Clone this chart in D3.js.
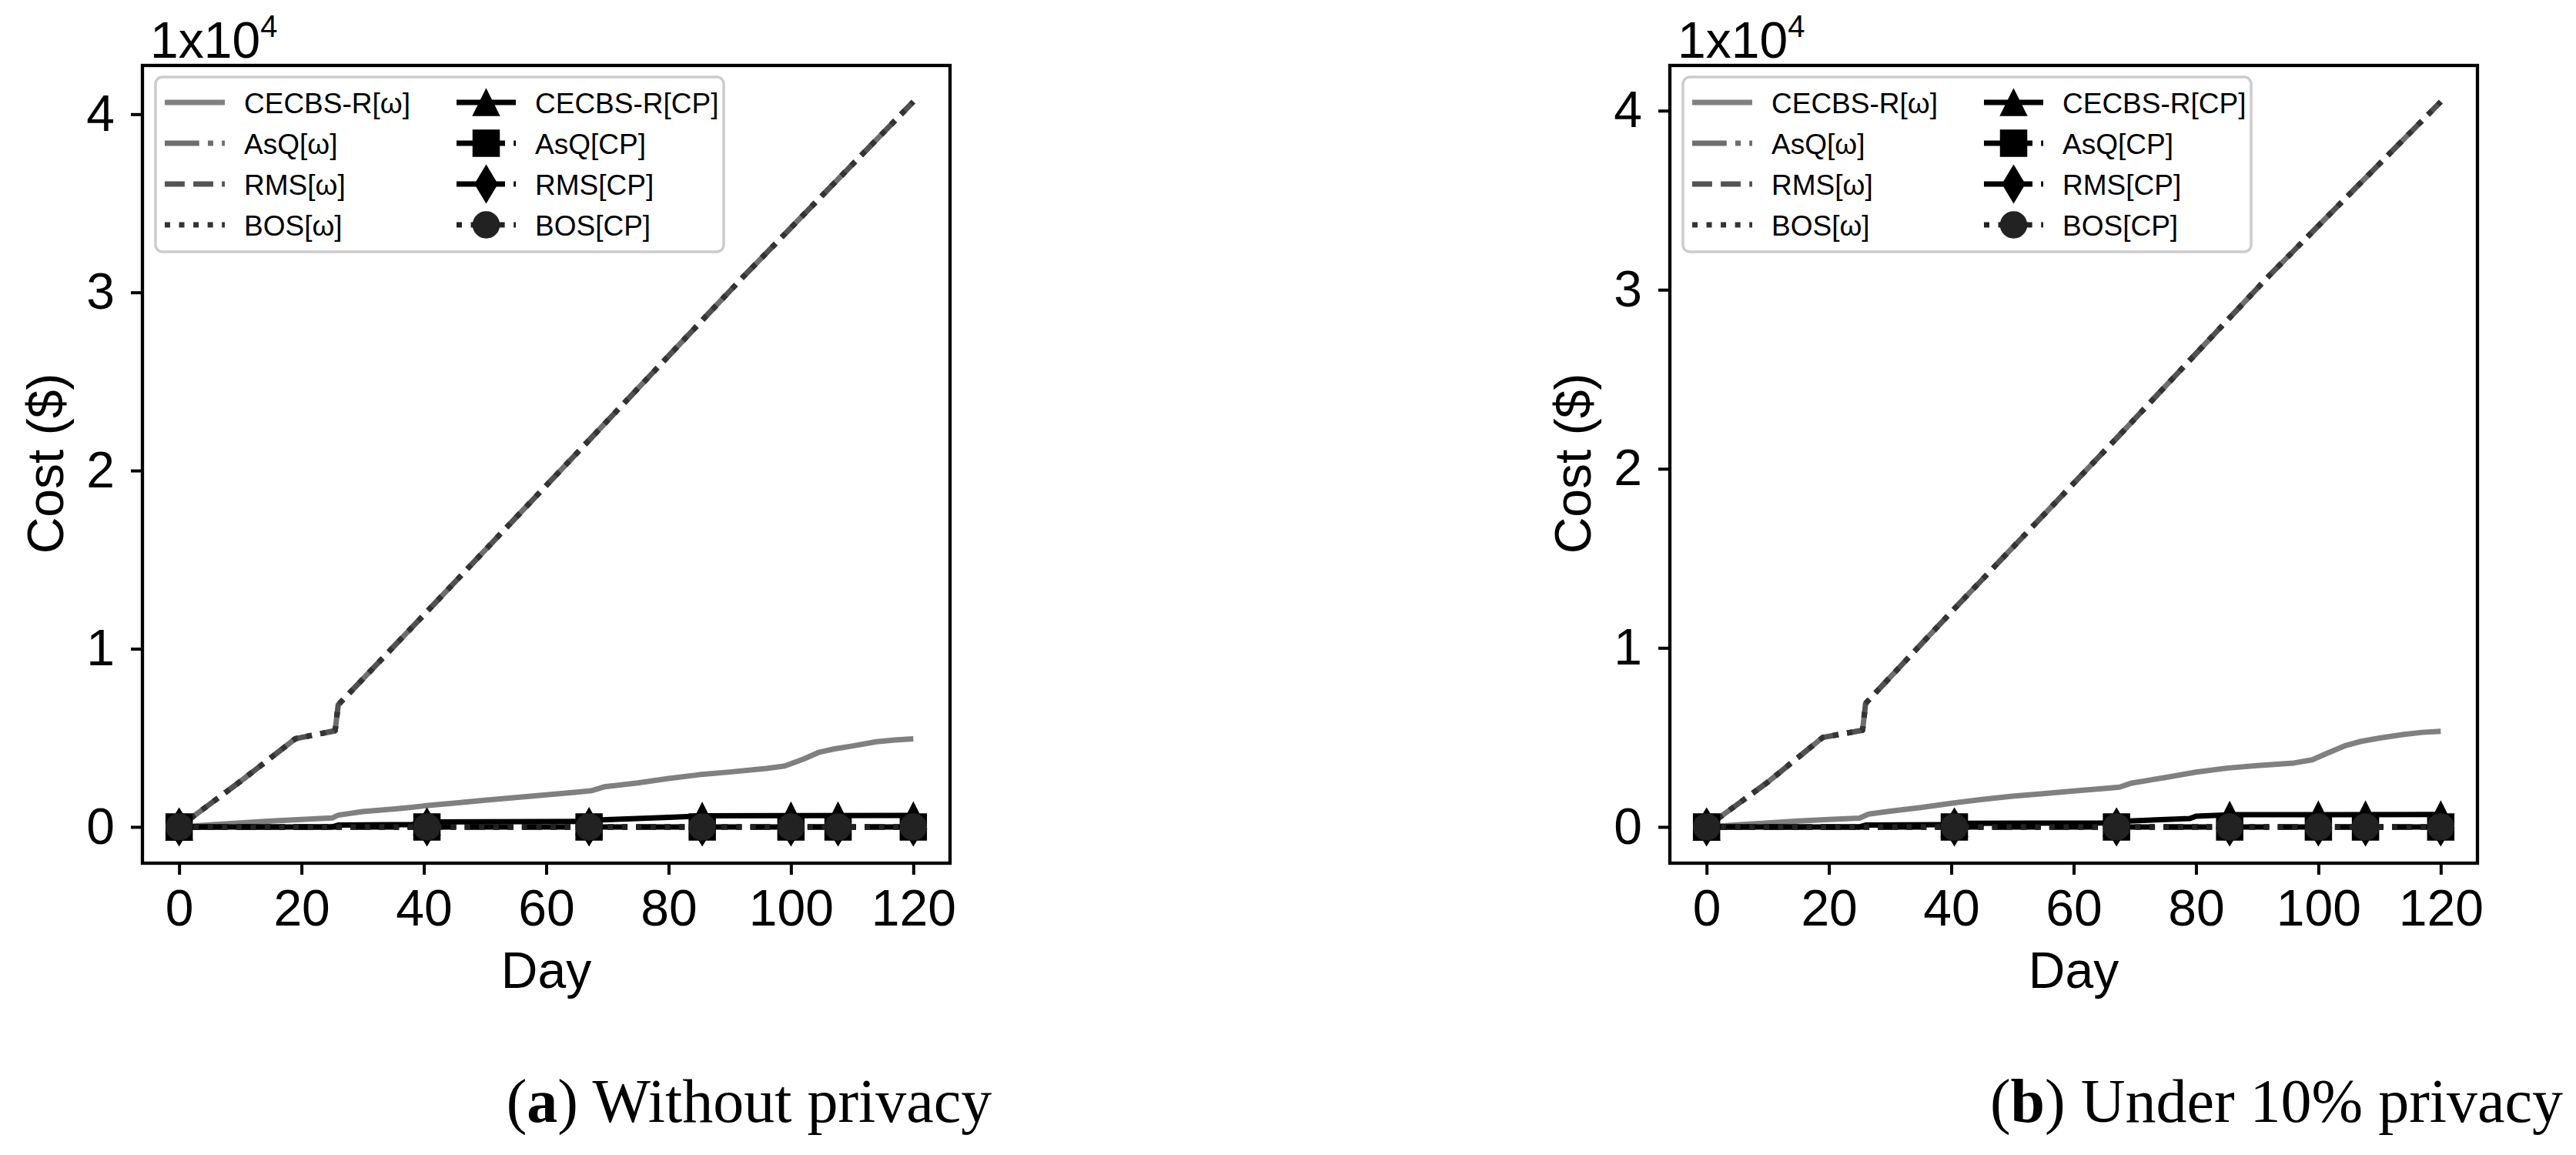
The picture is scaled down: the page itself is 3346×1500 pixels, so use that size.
<!DOCTYPE html>
<html><head><meta charset="utf-8">
<script src="https://cdn.jsdelivr.net/npm/d3@7"></script>
<style>body{margin:0;background:#fff;} svg{display:block;}</style>
</head><body>
<svg id="chart" width="3346" height="1500"></svg>
<script>
// ---------------- DATA ----------------
const seriesNames = ["CECBS-R[ω]","AsQ[ω]","RMS[ω]","BOS[ω]","CECBS-R[CP]","AsQ[CP]","RMS[CP]","BOS[CP]"];
const xTicks = [0,20,40,60,80,100,120];
const yTicks = [0,10000,20000,30000,40000];
const yTickLabels = ["0","1","2","3","4"];

// Panel (a) Without privacy : [day, cost]
const cecbsOmegaA = [[0,0],[5,110],[10,220],[15,330],[20,420],[25,500],[26,660],[30,860],[35,1000],[38,1100],[40,1180],[45,1340],[50,1500],[55,1650],[60,1800],[65,1950],[67.5,2040],[69.5,2250],[75,2470],[80,2720],[85,2930],[90,3080],[96,3280],[99,3420],[102,3800],[104.5,4180],[107,4370],[110,4540],[114,4780],[117,4880],[120,4940]];
const asqOmegaA = [[0,0],[10,2550],[19,4950],[25.5,5400],[26,6850],[40,11900],[67,21700],[92,30800],[120,40700]];
const rmsOmegaA = [[0,0],[10,2550],[19,4950],[25.5,5400],[26,6850],[40,11900],[67,21700],[92,30800],[120,40700]];
const bosOmegaA = [[0,0],[10,2550],[19,4950],[25.5,5400],[26,6850],[40,11900],[67,21700],[92,30800],[120,40700]];
const cecbsCPA = [[0,0],[25,0],[26,100],[38,130],[40,280],[67,310],[69,400],[80,540],[86,620],[100,630],[120,640]];
const asqCPA = [[0,0],[40,0],[80,0],[120,0]];
const rmsCPA = [[0,0],[40,0],[80,0],[120,0]];
const bosCPA = [[0,0],[40,0],[80,0],[120,0]];

// Panel (b) Under 10% privacy
const cecbsOmegaB = [[0,0],[5,110],[10,220],[15,330],[20,420],[25,490],[26.5,720],[30,880],[35,1080],[40,1320],[45,1530],[50,1720],[55,1860],[60,2010],[65,2150],[67.5,2220],[69.5,2450],[75,2760],[80,3060],[85,3280],[90,3430],[96,3570],[99,3750],[101,4050],[104.5,4550],[107,4780],[110,4960],[114,5170],[117,5280],[120,5340]];
const asqOmegaB = [[0,0],[10,2500],[19,5000],[25.5,5400],[26,6900],[40,12000],[67,21700],[92,30800],[120,40500]];
const rmsOmegaB = [[0,0],[10,2500],[19,5000],[25.5,5400],[26,6900],[40,12000],[67,21700],[92,30800],[120,40500]];
const bosOmegaB = [[0,0],[10,2500],[19,5000],[25.5,5400],[26,6900],[40,12000],[67,21700],[92,30800],[120,40500]];
const cecbsCPB = [[0,0],[25,0],[26,100],[38,120],[40,200],[67,220],[69,330],[79,470],[80,600],[86,680],[120,690]];
const asqCPB = [[0,0],[40,0],[80,0],[120,0]];
const rmsCPB = [[0,0],[40,0],[80,0],[120,0]];
const bosCPB = [[0,0],[40,0],[80,0],[120,0]];

// marker positions (days) and the marker values
const markerDays = [0,40.5,67,85.5,100,107.7,120];
const cecbsCPMarksA = [0,290,310,610,630,635,640];
const cecbsCPMarksB = [0,205,220,670,682,686,690];
const zeroMarks = [0,0,0,0,0,0,0];

const captions = [["a"," Without privacy"],["b"," Under 10% privacy"]];

// ---------------- STYLE ----------------
const W=3346,H=1500;
const LW=7;
const DASH={solid:null,dashed:[3.7,1.6],dashdot:[6.4,1.6,1,1.6],dotted:[1,1.65]};
const dashStr=k=>DASH[k]?DASH[k].map(v=>(v*LW).toFixed(2)).join(","):null;
const MS=34;
const dh=MS*Math.SQRT2/2, dw=0.6*dh;
const markerPath={
  triangle:`M0,${-MS/2}L${MS/2},${MS/2}L${-MS/2},${MS/2}Z`,
  square:`M${-MS/2},${-MS/2}h${MS}v${MS}h${-MS}Z`,
  thinDiamond:`M0,${-dh}L${dw},0L0,${dh}L${-dw},0Z`,
  circle:d3.symbol(d3.symbolCircle,Math.PI*(MS/2)*(MS/2))()
};
const styles=[
  {color:"#808080",dash:"solid"},
  {color:"#6e6e6e",dash:"dashdot"},
  {color:"#525252",dash:"dashed"},
  {color:"#333333",dash:"dotted"},
  {color:"#000000",dash:"solid",marker:"triangle"},
  {color:"#000000",dash:"dashdot",marker:"square"},
  {color:"#000000",dash:"dashed",marker:"thinDiamond"},
  {color:"#222222",dash:"dotted",marker:"circle"}
];
const SANS="'Liberation Sans', Arial, Helvetica, sans-serif";
const SERIF="'Liberation Serif', 'Times New Roman', serif";

const svg=d3.select("#chart");
svg.append("rect").attr("width",W).attr("height",H).attr("fill","#fff");

function drawPanel(off, idx, series, marks){
  const g=svg.append("g").attr("transform",`translate(${off},0)`);
  const plotL=185, plotR=1234, plotT=85, plotB=1121;
  const allX=series.flat().map(d=>d[0]);
  const allY=series.flat().map(d=>d[1]);
  const [x0,x1]=d3.extent(allX), [y0,y1]=d3.extent(allY);
  const mx=(x1-x0)*0.05, my=(y1-y0)*0.05;
  const x=d3.scaleLinear().domain([x0-mx,x1+mx]).range([plotL,plotR]);
  const y=d3.scaleLinear().domain([y0-my,y1+my]).range([plotB,plotT]);

  const clipId="clip"+idx;
  g.append("clipPath").attr("id",clipId).append("rect")
    .attr("x",plotL).attr("y",plotT).attr("width",plotR-plotL).attr("height",plotB-plotT);

  const line=d3.line().x(d=>x(d[0])).y(d=>y(d[1]));
  const plot=g.append("g").attr("clip-path",`url(#${clipId})`);
  series.forEach((s,i)=>{
    const st=styles[i];
    plot.append("path").datum(s).attr("d",line)
      .attr("fill","none").attr("stroke",st.color).attr("stroke-width",LW)
      .attr("stroke-dasharray",dashStr(st.dash)).attr("stroke-linejoin","round")
      .attr("stroke-linecap","butt");
    if(st.marker){
      const mv=marks[i-4];
      plot.selectAll(null).data(markerDays.map((d,k)=>[d,mv[k]])).enter()
        .append("path").attr("d",markerPath[st.marker])
        .attr("transform",d=>`translate(${x(d[0])},${y(d[1])})`)
        .attr("fill",st.color).attr("stroke",st.color).attr("stroke-width",1.5);
    }
  });

  // axes
  const xa=g.append("g").attr("transform",`translate(0,${plotB})`)
    .call(d3.axisBottom(x).tickValues(xTicks).tickSize(15).tickPadding(19).tickFormat(d3.format("d")));
  const ya=g.append("g").attr("transform",`translate(${plotL},0)`)
    .call(d3.axisLeft(y).tickValues(yTicks).tickSize(15).tickPadding(21).tickFormat((d,i)=>yTickLabels[i]));
  [xa,ya].forEach(a=>{
    a.select(".domain").remove();
    a.selectAll(".tick line").attr("stroke","#000").attr("stroke-width",4);
    a.selectAll(".tick text").attr("fill","#000").style("font-family",SANS).style("font-size","66px");
  });

  // frame
  g.append("rect").attr("x",plotL).attr("y",plotT).attr("width",plotR-plotL).attr("height",plotB-plotT)
    .attr("fill","none").attr("stroke","#000").attr("stroke-width",4.3);

  // offset text
  const ot=g.append("text").attr("x",195).attr("y",75).style("font-family",SANS).style("font-size","66px").attr("fill","#000").text("1x10");
  ot.append("tspan").attr("dy",-27).style("font-size","40px").text("4");

  // axis labels
  g.append("text").attr("transform",`translate(82,602) rotate(-90)`).attr("text-anchor","middle")
    .style("font-family",SANS).style("font-size","66px").attr("fill","#000").text("Cost ($)");
  g.append("text").attr("x",(plotL+plotR)/2).attr("y",1283).attr("text-anchor","middle")
    .style("font-family",SANS).style("font-size","66px").attr("fill","#000").text("Day");

  // legend
  const lg=g.append("g");
  lg.append("rect").attr("x",202).attr("y",100).attr("width",738).attr("height",227).attr("rx",9)
    .attr("fill","#fff").attr("fill-opacity",0.8).attr("stroke","#cccccc").attr("stroke-width",3.5);
  const rowsY=[133,186,239,292];
  const cols=[{x1:214,x2:292,tx:317},{x1:593,x2:670,tx:695}];
  seriesNames.forEach((name,i)=>{
    const c=cols[Math.floor(i/4)], ry=rowsY[i%4], st=styles[i];
    lg.append("line").attr("x1",c.x1).attr("x2",c.x2).attr("y1",ry).attr("y2",ry)
      .attr("stroke",st.color).attr("stroke-width",LW).attr("stroke-dasharray",dashStr(st.dash));
    if(st.marker){
      lg.append("path").attr("d",markerPath[st.marker]).attr("transform",`translate(${(c.x1+c.x2)/2},${ry})`)
        .attr("fill",st.color).attr("stroke",st.color).attr("stroke-width",1.5);
    }
    lg.append("text").attr("x",c.tx).attr("y",ry+13.5).style("font-family",SANS).style("font-size","37px")
      .attr("fill","#000").text(name);
  });

  // caption
  const cap=g.append("text").attr("x",973).attr("y",1457).attr("text-anchor","middle")
    .style("font-family",SERIF).style("font-size","80px").attr("fill","#000");
  cap.append("tspan").text("(");
  cap.append("tspan").style("font-weight","bold").text(captions[idx][0]);
  cap.append("tspan").text(")"+captions[idx][1]);
}

drawPanel(0,0,[cecbsOmegaA,asqOmegaA,rmsOmegaA,bosOmegaA,cecbsCPA,asqCPA,rmsCPA,bosCPA],[cecbsCPMarksA,zeroMarks,zeroMarks,zeroMarks]);
drawPanel(1984,1,[cecbsOmegaB,asqOmegaB,rmsOmegaB,bosOmegaB,cecbsCPB,asqCPB,rmsCPB,bosCPB],[cecbsCPMarksB,zeroMarks,zeroMarks,zeroMarks]);
</script>
</body></html>
